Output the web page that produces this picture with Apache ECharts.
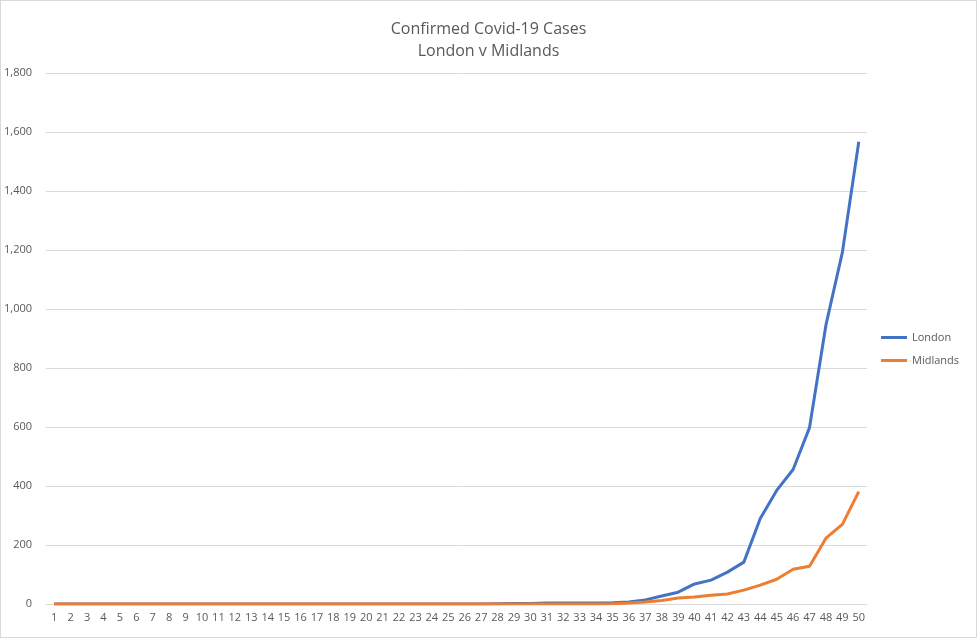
<!DOCTYPE html>
<html style="height: 100%">
<head>
    <meta charset="utf-8">
    <script src="https://cdn.jsdelivr.net/npm/echarts@6/dist/echarts.min.js"></script>
</head>
<body style="height: 100%; width: 100%; margin: 0; background-color: #fff;">
    <div id="container" style="width: 977px; height: 638px; border: 1px solid #d9d9d9; box-sizing: border-box;"></div>
    <script type="text/javascript">
        var days = [];
        for (var d = 1; d <= 50; d++) { days.push(String(d)); }

        var london = [0, 0, 0, 0, 0, 0, 0, 0, 0, 0,
            0, 0, 0, 0, 0, 0, 0, 0, 0, 0,
            0, 0, 0, 0, 0, 0, 0, 1, 2, 2,
            3, 3, 3, 3, 4, 7, 14, 27, 40, 68,
            81, 108, 142, 290, 385, 456, 598, 946, 1192, 1567];
        var midlands = [0, 0, 0, 0, 0, 0, 0, 0, 0, 0,
            0, 0, 0, 0, 0, 0, 0, 0, 0, 0,
            0, 0, 0, 0, 0, 0, 0, 0, 0, 0,
            0, 0, 0, 0, 1, 3, 7, 12, 20, 24,
            30, 34, 47, 64, 84, 118, 128, 223, 270, 381];

        var font = 'Open Sans, sans-serif';
        var myChart = echarts.init(document.getElementById('container'));

        function endLabel(arr) {
            return function (p) { return p.dataIndex === arr.length - 1 ? p.value : ''; };
        }

        var option = {
            animation: false,
            title: {
                text: 'Confirmed Covid-19 Cases\nLondon v Midlands',
                left: 'center',
                top: 12,
                textStyle: { fontSize: 16, fontWeight: 'normal', color: '#595959', fontFamily: font, lineHeight: 22 }
            },
            color: ['#4472C4', '#ED7D31'],
            legend: {
                orient: 'vertical',
                right: 12,
                top: 326,
                itemWidth: 26,
                itemHeight: 3,
                itemGap: 12,
                icon: 'rect',
                textStyle: { fontSize: 11, color: '#595959', fontFamily: font }
            },
            grid: { left: 45, right: 109, top: 72, bottom: 33 },
            xAxis: {
                type: 'category',
                data: days,
                boundaryGap: true,
                axisLine: { lineStyle: { color: '#d9d9d9' } },
                axisTick: { show: false },
                axisLabel: { interval: 0, fontSize: 11, color: '#595959', fontFamily: font }
            },
            yAxis: {
                type: 'value',
                min: 0,
                max: 1800,
                interval: 200,
                axisLine: { show: false },
                axisTick: { show: false },
                axisLabel: { fontSize: 11, color: '#595959', fontFamily: font, margin: 14 },
                splitLine: { lineStyle: { color: '#d9d9d9' } }
            },
            series: [
                {
                    name: 'London', type: 'line', data: london, symbol: 'none', lineStyle: { width: 3 },
                    label: { show: true, position: 'left', distance: 24, offset: [0, 4], fontSize: 14, color: '#404040', fontFamily: font, formatter: endLabel(london) }
                },
                {
                    name: 'Midlands', type: 'line', data: midlands, symbol: 'none', lineStyle: { width: 3 },
                    label: { show: true, position: 'left', distance: 24, offset: [0, 20], fontSize: 14, color: '#404040', fontFamily: font, formatter: endLabel(midlands) }
                }
            ]
        };
        myChart.setOption(option, true);
    </script>
</body>
</html>
